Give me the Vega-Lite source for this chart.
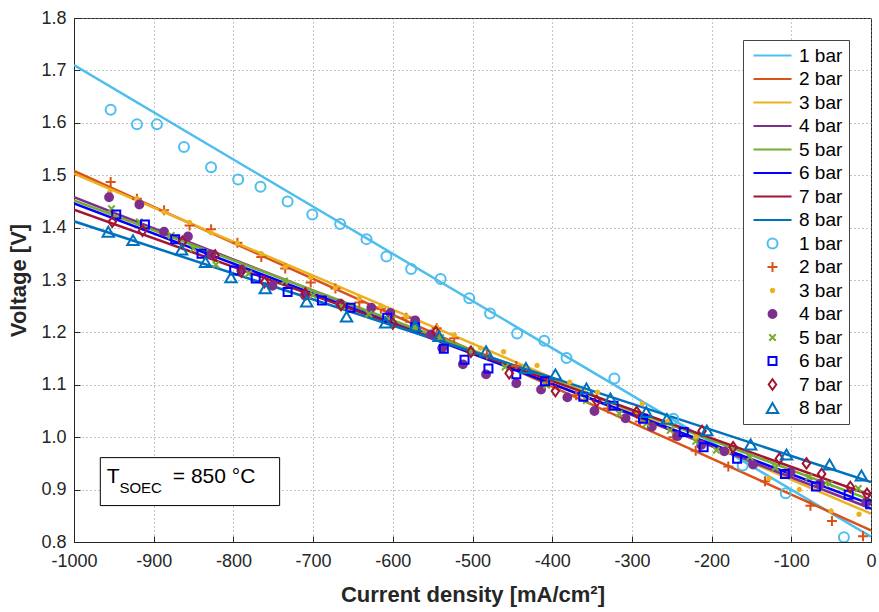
{
  "$schema": "https://vega.github.io/schema/vega-lite/v6.json",
  "width": 797,
  "height": 524,
  "autosize": "none",
  "padding": {"left": 74, "top": 18, "right": 8, "bottom": 70},
  "background": "white",
  "config": {
    "view": {"stroke": "#262626", "strokeWidth": 1},
    "font": "Liberation Sans",
    "axis": {
      "labelFont": "Liberation Sans",
      "labelFontSize": 18,
      "labelColor": "#262626",
      "labelFlush": false,
      "titleFont": "Liberation Sans",
      "titleFontSize": 22,
      "titleFontWeight": "bold",
      "titleColor": "#262626",
      "domainColor": "#262626",
      "tickColor": "#262626",
      "gridColor": "#8c8c8c",
      "gridDash": [1, 3],
      "gridWidth": 1
    },
    "legend": {
      "labelFont": "Liberation Sans",
      "labelFontSize": 19,
      "labelColor": "#000000",
      "strokeColor": "#444444",
      "fillColor": "white",
      "padding": 6,
      "rowPadding": 3.5,
      "symbolStrokeWidth": 2,
      "labelOffset": 17,
      "symbolOffset": 14
    }
  },
  "datasets": {
    "fits": [
      {"s": "L1", "x": -1000, "y": 1.710}, {"s": "L1", "x": 0, "y": 0.810},
      {"s": "L2", "x": -1000, "y": 1.508}, {"s": "L2", "x": 0, "y": 0.822},
      {"s": "L3", "x": -1000, "y": 1.503}, {"s": "L3", "x": 0, "y": 0.854},
      {"s": "L4", "x": -1000, "y": 1.458}, {"s": "L4", "x": 0, "y": 0.864},
      {"s": "L5", "x": -1000, "y": 1.452}, {"s": "L5", "x": 0, "y": 0.880},
      {"s": "L6", "x": -1000, "y": 1.446}, {"s": "L6", "x": 0, "y": 0.872},
      {"s": "L7", "x": -1000, "y": 1.434}, {"s": "L7", "x": 0, "y": 0.889},
      {"s": "L8", "x": -1000, "y": 1.412}, {"s": "L8", "x": 0, "y": 0.9145}
    ],
    "meas": [
      {"s": "P1", "x": -954, "y": 1.625}, {"s": "P1", "x": -921, "y": 1.597}, {"s": "P1", "x": -896, "y": 1.597}, {"s": "P1", "x": -862, "y": 1.554}, {"s": "P1", "x": -828, "y": 1.515}, {"s": "P1", "x": -794, "y": 1.492}, {"s": "P1", "x": -766, "y": 1.478}, {"s": "P1", "x": -732, "y": 1.450}, {"s": "P1", "x": -701, "y": 1.425}, {"s": "P1", "x": -666, "y": 1.407}, {"s": "P1", "x": -633, "y": 1.378}, {"s": "P1", "x": -608, "y": 1.345}, {"s": "P1", "x": -577, "y": 1.321}, {"s": "P1", "x": -540, "y": 1.302}, {"s": "P1", "x": -504, "y": 1.265}, {"s": "P1", "x": -478, "y": 1.236}, {"s": "P1", "x": -444, "y": 1.198}, {"s": "P1", "x": -410, "y": 1.184}, {"s": "P1", "x": -382, "y": 1.151}, {"s": "P1", "x": -322, "y": 1.112}, {"s": "P1", "x": -248, "y": 1.035}, {"s": "P1", "x": -161, "y": 0.946}, {"s": "P1", "x": -107, "y": 0.893}, {"s": "P1", "x": -34, "y": 0.809},
      {"s": "P2", "x": -954, "y": 1.487}, {"s": "P2", "x": -921, "y": 1.455}, {"s": "P2", "x": -887, "y": 1.433}, {"s": "P2", "x": -855, "y": 1.404}, {"s": "P2", "x": -828, "y": 1.397}, {"s": "P2", "x": -795, "y": 1.371}, {"s": "P2", "x": -765, "y": 1.344}, {"s": "P2", "x": -735, "y": 1.322}, {"s": "P2", "x": -703, "y": 1.295}, {"s": "P2", "x": -672, "y": 1.284}, {"s": "P2", "x": -642, "y": 1.257}, {"s": "P2", "x": -615, "y": 1.245}, {"s": "P2", "x": -583, "y": 1.228}, {"s": "P2", "x": -545, "y": 1.208}, {"s": "P2", "x": -523, "y": 1.189}, {"s": "P2", "x": -482, "y": 1.158}, {"s": "P2", "x": -445, "y": 1.136}, {"s": "P2", "x": -405, "y": 1.105}, {"s": "P2", "x": -370, "y": 1.080}, {"s": "P2", "x": -330, "y": 1.055}, {"s": "P2", "x": -290, "y": 1.030}, {"s": "P2", "x": -248, "y": 1.000}, {"s": "P2", "x": -220, "y": 0.974}, {"s": "P2", "x": -179, "y": 0.944}, {"s": "P2", "x": -133, "y": 0.916}, {"s": "P2", "x": -76, "y": 0.869}, {"s": "P2", "x": -49, "y": 0.840}, {"s": "P2", "x": -10, "y": 0.811},
      {"s": "P3", "x": -955, "y": 1.468}, {"s": "P3", "x": -921, "y": 1.455}, {"s": "P3", "x": -887, "y": 1.430}, {"s": "P3", "x": -855, "y": 1.410}, {"s": "P3", "x": -828, "y": 1.390}, {"s": "P3", "x": -795, "y": 1.370}, {"s": "P3", "x": -765, "y": 1.350}, {"s": "P3", "x": -735, "y": 1.325}, {"s": "P3", "x": -703, "y": 1.305}, {"s": "P3", "x": -672, "y": 1.285}, {"s": "P3", "x": -642, "y": 1.265}, {"s": "P3", "x": -615, "y": 1.250}, {"s": "P3", "x": -583, "y": 1.230}, {"s": "P3", "x": -545, "y": 1.210}, {"s": "P3", "x": -523, "y": 1.195}, {"s": "P3", "x": -490, "y": 1.170}, {"s": "P3", "x": -461, "y": 1.163}, {"s": "P3", "x": -419, "y": 1.137}, {"s": "P3", "x": -378, "y": 1.105}, {"s": "P3", "x": -343, "y": 1.086}, {"s": "P3", "x": -287, "y": 1.064}, {"s": "P3", "x": -255, "y": 1.030}, {"s": "P3", "x": -220, "y": 1.000}, {"s": "P3", "x": -179, "y": 0.972}, {"s": "P3", "x": -128, "y": 0.921}, {"s": "P3", "x": -90, "y": 0.900}, {"s": "P3", "x": -50, "y": 0.859}, {"s": "P3", "x": -15, "y": 0.853},
      {"s": "P4", "x": -956, "y": 1.458}, {"s": "P4", "x": -918, "y": 1.444}, {"s": "P4", "x": -887, "y": 1.392}, {"s": "P4", "x": -857, "y": 1.383}, {"s": "P4", "x": -828, "y": 1.349}, {"s": "P4", "x": -790, "y": 1.320}, {"s": "P4", "x": -751, "y": 1.289}, {"s": "P4", "x": -710, "y": 1.270}, {"s": "P4", "x": -666, "y": 1.255}, {"s": "P4", "x": -627, "y": 1.247}, {"s": "P4", "x": -603, "y": 1.237}, {"s": "P4", "x": -572, "y": 1.223}, {"s": "P4", "x": -552, "y": 1.196}, {"s": "P4", "x": -538, "y": 1.170}, {"s": "P4", "x": -512, "y": 1.139}, {"s": "P4", "x": -483, "y": 1.120}, {"s": "P4", "x": -445, "y": 1.103}, {"s": "P4", "x": -414, "y": 1.091}, {"s": "P4", "x": -381, "y": 1.076}, {"s": "P4", "x": -347, "y": 1.050}, {"s": "P4", "x": -308, "y": 1.036}, {"s": "P4", "x": -275, "y": 1.020}, {"s": "P4", "x": -243, "y": 1.002}, {"s": "P4", "x": -213, "y": 0.985}, {"s": "P4", "x": -184, "y": 0.973}, {"s": "P4", "x": -148, "y": 0.948}, {"s": "P4", "x": -101, "y": 0.933}, {"s": "P4", "x": -64, "y": 0.911}, {"s": "P4", "x": -6, "y": 0.876},
      {"s": "P5", "x": -953, "y": 1.436}, {"s": "P5", "x": -918, "y": 1.411}, {"s": "P5", "x": -878, "y": 1.385}, {"s": "P5", "x": -850, "y": 1.360}, {"s": "P5", "x": -822, "y": 1.329}, {"s": "P5", "x": -781, "y": 1.312}, {"s": "P5", "x": -736, "y": 1.298}, {"s": "P5", "x": -700, "y": 1.271}, {"s": "P5", "x": -664, "y": 1.250}, {"s": "P5", "x": -630, "y": 1.235}, {"s": "P5", "x": -600, "y": 1.225}, {"s": "P5", "x": -572, "y": 1.212}, {"s": "P5", "x": -540, "y": 1.190}, {"s": "P5", "x": -502, "y": 1.163}, {"s": "P5", "x": -459, "y": 1.134}, {"s": "P5", "x": -407, "y": 1.099}, {"s": "P5", "x": -357, "y": 1.070}, {"s": "P5", "x": -316, "y": 1.045}, {"s": "P5", "x": -282, "y": 1.026}, {"s": "P5", "x": -252, "y": 1.013}, {"s": "P5", "x": -220, "y": 0.992}, {"s": "P5", "x": -194, "y": 0.975}, {"s": "P5", "x": -152, "y": 0.962}, {"s": "P5", "x": -120, "y": 0.942}, {"s": "P5", "x": -78, "y": 0.924}, {"s": "P5", "x": -52, "y": 0.911}, {"s": "P5", "x": -16, "y": 0.902},
      {"s": "P6", "x": -947, "y": 1.425}, {"s": "P6", "x": -911, "y": 1.406}, {"s": "P6", "x": -873, "y": 1.378}, {"s": "P6", "x": -840, "y": 1.350}, {"s": "P6", "x": -799, "y": 1.318}, {"s": "P6", "x": -772, "y": 1.303}, {"s": "P6", "x": -732, "y": 1.277}, {"s": "P6", "x": -689, "y": 1.261}, {"s": "P6", "x": -653, "y": 1.247}, {"s": "P6", "x": -607, "y": 1.228}, {"s": "P6", "x": -572, "y": 1.210}, {"s": "P6", "x": -536, "y": 1.169}, {"s": "P6", "x": -510, "y": 1.148}, {"s": "P6", "x": -480, "y": 1.131}, {"s": "P6", "x": -445, "y": 1.120}, {"s": "P6", "x": -409, "y": 1.107}, {"s": "P6", "x": -361, "y": 1.077}, {"s": "P6", "x": -323, "y": 1.060}, {"s": "P6", "x": -286, "y": 1.035}, {"s": "P6", "x": -235, "y": 1.010}, {"s": "P6", "x": -210, "y": 0.981}, {"s": "P6", "x": -168, "y": 0.959}, {"s": "P6", "x": -108, "y": 0.930}, {"s": "P6", "x": -69, "y": 0.906}, {"s": "P6", "x": -28, "y": 0.890}, {"s": "P6", "x": -1, "y": 0.872},
      {"s": "P7", "x": -952, "y": 1.411}, {"s": "P7", "x": -914, "y": 1.394}, {"s": "P7", "x": -864, "y": 1.373}, {"s": "P7", "x": -823, "y": 1.347}, {"s": "P7", "x": -790, "y": 1.316}, {"s": "P7", "x": -761, "y": 1.296}, {"s": "P7", "x": -710, "y": 1.274}, {"s": "P7", "x": -665, "y": 1.252}, {"s": "P7", "x": -600, "y": 1.217}, {"s": "P7", "x": -546, "y": 1.201}, {"s": "P7", "x": -502, "y": 1.163}, {"s": "P7", "x": -454, "y": 1.122}, {"s": "P7", "x": -396, "y": 1.088}, {"s": "P7", "x": -344, "y": 1.069}, {"s": "P7", "x": -294, "y": 1.048}, {"s": "P7", "x": -212, "y": 1.012}, {"s": "P7", "x": -173, "y": 0.981}, {"s": "P7", "x": -115, "y": 0.959}, {"s": "P7", "x": -81, "y": 0.950}, {"s": "P7", "x": -62, "y": 0.930}, {"s": "P7", "x": -26, "y": 0.905}, {"s": "P7", "x": -5, "y": 0.892},
      {"s": "P8", "x": -957, "y": 1.392}, {"s": "P8", "x": -926, "y": 1.376}, {"s": "P8", "x": -865, "y": 1.358}, {"s": "P8", "x": -835, "y": 1.334}, {"s": "P8", "x": -803, "y": 1.305}, {"s": "P8", "x": -760, "y": 1.284}, {"s": "P8", "x": -708, "y": 1.259}, {"s": "P8", "x": -658, "y": 1.230}, {"s": "P8", "x": -609, "y": 1.219}, {"s": "P8", "x": -572, "y": 1.212}, {"s": "P8", "x": -542, "y": 1.193}, {"s": "P8", "x": -483, "y": 1.164}, {"s": "P8", "x": -433, "y": 1.132}, {"s": "P8", "x": -396, "y": 1.120}, {"s": "P8", "x": -357, "y": 1.093}, {"s": "P8", "x": -327, "y": 1.074}, {"s": "P8", "x": -282, "y": 1.048}, {"s": "P8", "x": -256, "y": 1.035}, {"s": "P8", "x": -206, "y": 1.013}, {"s": "P8", "x": -151, "y": 0.986}, {"s": "P8", "x": -106, "y": 0.967}, {"s": "P8", "x": -52, "y": 0.948}, {"s": "P8", "x": -12, "y": 0.927}
    ]
  },
  "layer": [
    {
      "data": {"name": "fits"},
      "mark": {"type": "line", "strokeWidth": 2.5, "clip": true},
      "encoding": {
        "x": {
          "field": "x", "type": "quantitative",
          "scale": {"domain": [-1000, 0], "nice": false, "zero": false},
          "axis": {
            "title": "Current density [mA/cm²]",
            "values": [-1000, -900, -800, -700, -600, -500, -400, -300, -200, -100, 0],
            "labelExpr": "'' + datum.value",
            "tickSize": -6, "labelPadding": 16, "titlePadding": 14, "grid": true
          }
        },
        "y": {
          "field": "y", "type": "quantitative",
          "scale": {"domain": [0.8, 1.8], "nice": false, "zero": false},
          "axis": {
            "title": "Voltage [V]",
            "values": [0.8, 0.9, 1.0, 1.1, 1.2, 1.3, 1.4, 1.5, 1.6, 1.7, 1.8],
            "labelExpr": "format(datum.value, '.1f')",
            "tickSize": -6, "labelPadding": 14, "titlePadding": 10, "grid": true
          }
        },
        "stroke": {
          "field": "s", "type": "nominal",
          "scale": {
            "domain": ["L1", "L2", "L3", "L4", "L5", "L6", "L7", "L8", "P1", "P2", "P3", "P4", "P5", "P6", "P7", "P8"],
            "range": ["#4DBEEE", "#D95319", "#EDB120", "#7E2F8E", "#77AC30", "#0000FF", "#A2142F", "#0072BD", "#4DBEEE", "#D95319", "#EDB120", "#7E2F8E", "#77AC30", "#0000FF", "#A2142F", "#0072BD"]
          },
          "legend": {"title": null, "orient": "none", "legendX": 669, "legendY": 22, "labelExpr": "substring(datum.label, 1) + ' bar'"}
        }
      }
    },
    {
      "data": {"name": "meas"},
      "mark": {"type": "point", "strokeWidth": 2, "opacity": 1, "clip": true},
      "encoding": {
        "x": {"field": "x", "type": "quantitative"},
        "y": {"field": "y", "type": "quantitative"},
        "stroke": {
          "field": "s", "type": "nominal",
          "scale": {
            "domain": ["L1", "L2", "L3", "L4", "L5", "L6", "L7", "L8", "P1", "P2", "P3", "P4", "P5", "P6", "P7", "P8"],
            "range": ["#4DBEEE", "#D95319", "#EDB120", "#7E2F8E", "#77AC30", "#0000FF", "#A2142F", "#0072BD", "#4DBEEE", "#D95319", "#EDB120", "#7E2F8E", "#77AC30", "#0000FF", "#A2142F", "#0072BD"]
          },
          "legend": {"title": null, "orient": "none", "legendX": 669, "legendY": 22, "labelExpr": "substring(datum.label, 1) + ' bar'"}
        },
        "fill": {
          "field": "s", "type": "nominal",
          "scale": {
            "domain": ["L1", "L2", "L3", "L4", "L5", "L6", "L7", "L8", "P1", "P2", "P3", "P4", "P5", "P6", "P7", "P8"],
            "range": ["transparent", "transparent", "transparent", "transparent", "transparent", "transparent", "transparent", "transparent", "transparent", "transparent", "#EDB120", "#7E2F8E", "transparent", "transparent", "transparent", "transparent"]
          },
          "legend": {"title": null, "orient": "none", "legendX": 669, "legendY": 22, "labelExpr": "substring(datum.label, 1) + ' bar'"}
        },
        "shape": {
          "field": "s", "type": "nominal",
          "scale": {
            "domain": ["L1", "L2", "L3", "L4", "L5", "L6", "L7", "L8", "P1", "P2", "P3", "P4", "P5", "P6", "P7", "P8"],
            "range": ["M-3.8,0L3.8,0", "M-3.8,0L3.8,0", "M-3.8,0L3.8,0", "M-3.8,0L3.8,0", "M-3.8,0L3.8,0", "M-3.8,0L3.8,0", "M-3.8,0L3.8,0", "M-3.8,0L3.8,0", "circle", "M-1,0L1,0M0,-1L0,1", "circle", "circle", "M-1,-1L1,1M-1,1L1,-1", "square", "M0,-1L0.72,0L0,1L-0.72,0Z", "triangle-up"]
          },
          "legend": {"title": null, "orient": "none", "legendX": 669, "legendY": 22, "labelExpr": "substring(datum.label, 1) + ' bar'"}
        },
        "size": {
          "field": "s", "type": "nominal",
          "scale": {
            "type": "ordinal",
            "domain": ["L1", "L2", "L3", "L4", "L5", "L6", "L7", "L8", "P1", "P2", "P3", "P4", "P5", "P6", "P7", "P8"],
            "range": [100, 100, 100, 100, 100, 100, 100, 100, 100, 100, 12, 62, 42, 64, 110, 130]
          },
          "legend": {"title": null, "orient": "none", "legendX": 669, "legendY": 22, "labelExpr": "substring(datum.label, 1) + ' bar'"}
        }
      }
    },
    {
      "data": {"values": [{}]},
      "mark": {"type": "rect", "fill": "white", "stroke": "#000000", "strokeWidth": 1},
      "encoding": {
        "x": {"datum": -967, "type": "quantitative"},
        "x2": {"datum": -742},
        "y": {"datum": 0.961, "type": "quantitative"},
        "y2": {"datum": 0.8695}
      }
    },
    {
      "data": {"values": [{}]},
      "mark": {"type": "text", "text": "T", "fontSize": 21, "font": "Liberation Sans", "align": "left", "baseline": "alphabetic", "color": "#000000"},
      "encoding": {
        "x": {"datum": -959, "type": "quantitative"},
        "y": {"datum": 0.9126, "type": "quantitative"}
      }
    },
    {
      "data": {"values": [{}]},
      "mark": {"type": "text", "text": "SOEC", "fontSize": 15, "font": "Liberation Sans", "align": "left", "baseline": "alphabetic", "color": "#000000"},
      "encoding": {
        "x": {"datum": -943, "type": "quantitative"},
        "y": {"datum": 0.8935, "type": "quantitative"}
      }
    },
    {
      "data": {"values": [{}]},
      "mark": {"type": "text", "text": "= 850 °C", "fontSize": 21, "font": "Liberation Sans", "align": "left", "baseline": "alphabetic", "color": "#000000"},
      "encoding": {
        "x": {"datum": -876, "type": "quantitative"},
        "y": {"datum": 0.9126, "type": "quantitative"}
      }
    }
  ]
}
